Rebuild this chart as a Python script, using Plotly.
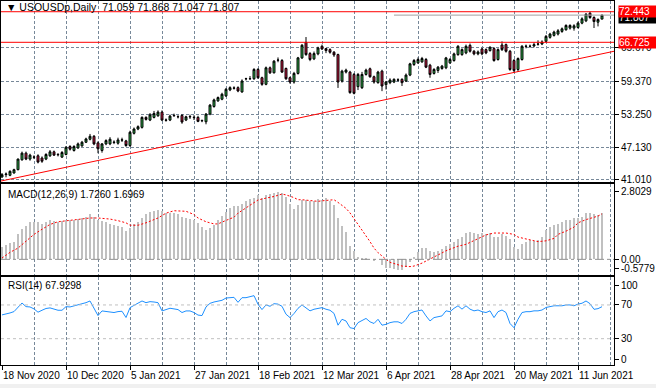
import pandas as pd
import plotly.graph_objects as go
from plotly.subplots import make_subplots

# ---------------- data ----------------
opens = [41.56, 42.00, 41.87, 42.30, 42.92, 44.77, 46.01, 44.90, 45.30, 45.52,
         45.10, 44.90, 45.52, 46.26, 45.78, 45.27, 45.76, 47.25, 46.51, 47.00,
         47.37, 48.05, 48.61, 49.16, 47.93, 46.51, 47.74, 47.74, 48.08, 47.87,
         48.50, 48.30, 47.43, 49.72, 50.52, 50.83, 52.69, 52.19, 52.69, 53.00,
         53.68, 52.22, 52.19, 53.00, 52.80, 53.06, 52.19, 52.78, 52.72, 52.69,
         52.05, 51.88, 53.31, 54.73, 55.78, 56.09, 56.71, 57.82, 58.20, 58.25,
         57.45, 59.90, 59.95, 59.92, 61.65, 60.11, 58.87, 61.96, 61.03, 63.38,
         63.32, 61.84, 60.11, 59.30, 60.91, 63.82, 66.72, 64.62, 63.63, 64.56,
         65.98, 65.55, 65.36, 64.87, 64.43, 59.49, 61.16, 61.16, 60.72, 58.44,
         58.25, 60.72, 61.78, 60.29, 59.18, 61.34, 58.81, 59.18, 59.30, 59.65,
         59.80, 59.49, 60.60, 62.58, 62.89, 63.07, 63.51, 62.45, 60.91, 61.47,
         61.84, 61.96, 62.89, 63.32, 64.43, 64.43, 64.74, 66.16, 65.05, 64.56,
         65.48, 65.36, 65.17, 65.55, 63.51, 66.22, 66.29, 65.05, 63.32, 61.65,
         63.51, 65.95, 66.00, 66.04, 66.41, 66.41, 66.91, 67.65, 68.02, 68.27,
         68.76, 69.07, 69.38, 69.38, 69.50, 70.31, 70.74, 72.16, 71.36, 70.49,
         71.059]
highs = [42.30, 42.40, 42.80, 43.10, 45.00, 46.30, 46.30, 45.90, 45.60, 45.80,
         45.40, 46.00, 46.60, 46.50, 46.00, 46.40, 47.30, 47.50, 47.50, 48.00,
         48.30, 48.90, 49.60, 49.40, 48.20, 47.90, 48.60, 49.00, 48.40, 48.90,
         48.90, 48.50, 50.20, 50.80, 51.20, 52.90, 52.90, 53.50, 53.90, 54.00,
         54.00, 52.50, 53.20, 53.40, 53.10, 53.30, 53.00, 53.20, 53.10, 53.00,
         52.30, 53.50, 55.20, 56.20, 56.60, 57.30, 58.20, 58.50, 58.50, 58.50,
         59.80, 60.10, 60.42, 61.90, 61.90, 60.30, 62.20, 62.20, 63.40, 63.90,
         63.60, 62.00, 60.30, 61.20, 64.00, 66.40, 67.71, 64.90, 65.00, 65.90,
         66.30, 65.60, 65.60, 65.10, 64.60, 61.60, 61.80, 61.40, 61.00, 61.00,
         61.20, 61.80, 62.00, 60.50, 61.40, 61.60, 59.50, 60.00, 60.00, 60.00,
         60.00, 60.90, 62.90, 63.60, 63.90, 64.00, 63.80, 62.70, 61.90, 62.30,
         62.50, 64.00, 63.80, 64.80, 66.20, 65.60, 66.30, 66.50, 65.30, 65.20,
         65.70, 65.60, 66.00, 65.80, 65.60, 66.90, 66.50, 65.30, 63.60, 63.90,
         66.20, 66.30, 66.30, 66.70, 67.10, 67.10, 68.10, 68.50, 68.90, 69.20,
         69.50, 70.10, 70.10, 70.10, 70.60, 71.40, 72.20, 72.443, 71.60, 71.20,
         71.868]
lows = [41.40, 41.50, 41.70, 42.20, 42.80, 44.60, 44.70, 44.60, 44.90, 44.10,
        44.20, 44.70, 45.30, 45.50, 45.40, 45.10, 45.60, 46.50, 46.30, 46.80,
        47.20, 47.90, 48.40, 47.50, 46.00, 46.10, 47.50, 47.50, 47.70, 47.60,
        48.10, 47.20, 47.20, 49.50, 50.30, 50.60, 52.10, 52.00, 52.50, 52.80,
        52.00, 51.90, 52.00, 52.80, 52.50, 51.50, 52.00, 52.40, 52.20, 51.80,
        51.80, 51.40, 53.10, 54.50, 55.60, 55.90, 56.50, 57.60, 57.90, 57.40,
        57.30, 59.60, 59.70, 59.70, 59.90, 58.60, 58.70, 60.80, 60.90, 63.00,
        61.00, 59.70, 59.00, 59.00, 60.70, 63.60, 64.20, 63.20, 63.40, 64.30,
        65.30, 64.70, 64.60, 64.00, 58.20, 59.20, 60.90, 57.10, 57.00, 57.80,
        58.00, 60.50, 60.10, 59.00, 59.00, 57.60, 57.90, 58.90, 59.10, 59.40,
        58.56, 59.30, 60.40, 62.30, 62.70, 62.90, 61.90, 60.10, 60.70, 61.00,
        61.60, 61.70, 62.70, 63.10, 64.20, 64.20, 64.50, 64.80, 64.30, 64.30,
        64.30, 64.50, 65.00, 63.10, 63.30, 65.10, 64.80, 61.40, 61.10, 61.20,
        63.30, 65.60, 65.70, 65.80, 66.10, 66.20, 66.70, 67.40, 67.80, 68.00,
        68.50, 68.90, 69.10, 68.90, 69.30, 70.10, 70.50, 71.10, 69.40, 69.70,
        71.047]
closes = [41.99, 42.10, 42.61, 42.92, 44.90, 46.01, 44.90, 45.64, 45.25, 44.34,
          44.50, 45.76, 46.26, 45.64, 45.72, 46.13, 47.12, 46.75, 47.25, 47.74,
          48.05, 48.67, 49.16, 47.74, 46.82, 47.74, 48.36, 48.61, 48.02, 48.48,
          48.45, 47.43, 49.91, 50.52, 50.96, 52.69, 52.32, 53.18, 53.43, 53.68,
          52.19, 52.16, 52.93, 53.06, 52.82, 51.82, 52.81, 52.84, 52.66, 51.95,
          52.10, 53.31, 54.98, 55.96, 56.40, 57.02, 57.94, 58.25, 58.15, 57.63,
          59.49, 59.93, 59.92, 61.65, 60.11, 58.87, 61.96, 61.03, 63.20, 63.40,
          61.16, 59.92, 59.30, 60.91, 63.82, 66.17, 64.43, 63.51, 64.62, 65.67,
          65.48, 65.18, 64.87, 64.37, 59.30, 61.34, 61.53, 57.33, 57.20, 60.72,
          60.72, 61.53, 60.29, 59.30, 61.16, 58.56, 59.30, 59.67, 59.80, 59.70,
          59.18, 60.60, 62.70, 63.32, 63.51, 63.69, 62.08, 60.72, 61.65, 62.08,
          62.27, 63.81, 63.51, 64.56, 65.98, 65.36, 65.98, 65.05, 64.56, 64.93,
          64.56, 64.74, 65.79, 63.32, 65.36, 65.36, 65.05, 61.65, 61.47, 63.69,
          65.98, 66.00, 65.98, 66.29, 66.38, 66.78, 67.83, 68.27, 68.64, 68.88,
          69.25, 69.87, 69.87, 69.81, 70.31, 71.11, 71.97, 71.36, 70.61, 70.99,
          71.807]

macd_hist = [0.47, 0.53, 0.59, 0.66, 0.93, 1.12, 1.23, 1.37, 1.40, 1.37,
             1.32, 1.37, 1.45, 1.41, 1.40, 1.42, 1.47, 1.45, 1.47, 1.51,
             1.52, 1.59, 1.67, 1.57, 1.45, 1.42, 1.37, 1.32, 1.27, 1.25,
             1.20, 1.05, 1.18, 1.32, 1.40, 1.54, 1.67, 1.76, 1.81, 1.85,
             1.79, 1.74, 1.74, 1.72, 1.67, 1.57, 1.54, 1.50, 1.45, 1.35,
             1.20, 1.10, 1.15, 1.27, 1.45, 1.61, 1.76, 1.91, 1.97, 1.97,
             2.06, 2.16, 2.25, 2.28, 2.40, 2.30, 2.38, 2.43, 2.46, 2.50,
             2.46, 2.33, 2.06, 1.89, 2.01, 2.22, 2.22, 2.18, 2.16, 2.25,
             2.22, 2.28, 2.16, 2.01, 1.52, 1.23, 1.00, 0.49, 0.30, 0.10,
             0.05, 0.05, 0.00, -0.07, 0.00, -0.23, -0.32, -0.34, -0.36, -0.39,
             -0.39, -0.29, -0.10, 0.10, 0.26, 0.42, 0.42, 0.32, 0.27, 0.32,
             0.38, 0.49, 0.56, 0.66, 0.75, 0.83, 0.96, 1.02, 0.99, 0.93,
             0.98, 0.93, 0.96, 0.83, 0.83, 0.93, 0.87, 0.76, 0.44, 0.39,
             0.56, 0.66, 0.71, 0.69, 0.71, 0.83, 1.08, 1.20, 1.27, 1.32,
             1.37, 1.45, 1.45, 1.52, 1.54, 1.59, 1.72, 1.74, 1.67, 1.64,
             1.726]

signal_bars = [0, 2, 4, 5, 8, 10, 12, 14, 17, 20, 22, 24, 27, 29, 31, 32, 34, 36,
               39, 41, 43, 46, 48, 49, 51, 53, 54, 56, 58, 59, 61, 63, 64, 66, 68,
               70, 71, 73, 74, 75, 77, 79, 80, 82, 83, 84, 86, 87, 88, 89, 91, 92,
               93, 94, 96, 97, 99, 100, 102, 103, 105, 107, 108, 110, 111, 113, 114,
               116, 118, 119, 121, 123, 124, 126, 128, 129, 131, 133, 134, 136, 138,
               139, 141, 143, 144, 146, 148, 149, 150]
signal_vals = [0.05, 0.26, 0.42, 0.55, 0.93, 1.12, 1.30, 1.40, 1.45, 1.49, 1.54,
               1.54, 1.50, 1.44, 1.36, 1.27, 1.27, 1.36, 1.54, 1.72, 1.81, 1.79,
               1.67, 1.54, 1.40, 1.32, 1.32, 1.45, 1.57, 1.72, 1.91, 2.13, 2.21,
               2.28, 2.34, 2.43, 2.40, 2.30, 2.22, 2.22, 2.18, 2.16, 2.18, 2.22,
               2.22, 2.12, 1.90, 1.73, 1.52, 1.30, 0.90, 0.66, 0.42, 0.25, 0.00,
               -0.11, -0.20, -0.25, -0.27, -0.25, -0.14, 0.00, 0.10, 0.24, 0.32,
               0.43, 0.49, 0.56, 0.70, 0.78, 0.91, 0.98, 0.98, 0.98, 0.93, 0.83,
               0.76, 0.69, 0.66, 0.69, 0.78, 0.93, 1.05, 1.20, 1.36, 1.48, 1.57,
               1.61, 1.6969]

rsi = [58.2, 59.0, 60.5, 62.1, 66.8, 72.3, 68.0, 67.6, 65.3, 61.4,
       63.7, 65.8, 66.5, 65.3, 63.7, 63.7, 68.0, 67.6, 68.8, 70.0,
       71.5, 72.7, 74.7, 65.3, 57.4, 62.9, 62.1, 61.8, 61.0, 62.1,
       62.5, 55.1, 66.8, 69.5, 72.0, 74.7, 72.7, 73.9, 73.5, 72.7,
       62.9, 64.9, 66.1, 65.3, 64.5, 61.0, 62.9, 62.9, 61.0, 58.0,
       57.4, 67.6, 71.9, 73.5, 74.7, 75.5, 78.2, 78.6, 79.0, 73.1,
       78.6, 78.6, 79.4, 81.0, 70.8, 64.5, 70.0, 68.4, 71.5, 71.0,
       68.4, 59.0, 55.0, 59.8, 66.0, 70.0, 66.5, 63.0, 64.9, 66.1,
       66.8, 64.9, 63.7, 60.0, 46.0, 53.0, 51.0, 43.0, 42.0, 49.0,
       52.0, 54.0, 50.0, 48.0, 53.0, 46.0, 47.0, 49.0, 50.0, 50.0,
       48.0, 53.0, 60.0, 62.0, 63.0, 64.0, 57.0, 51.0, 55.0, 56.0,
       57.0, 63.0, 62.0, 66.0, 69.0, 65.0, 69.0, 65.0, 63.0, 64.0,
       62.0, 61.0, 63.0, 55.0, 62.0, 64.0, 61.0, 48.0, 43.0, 53.0,
       61.0, 62.0, 62.0, 63.0, 63.0, 64.0, 67.0, 68.0, 69.0, 69.0,
       69.0, 70.0, 70.0, 69.0, 71.0, 72.0, 74.7, 71.5, 64.8, 65.6,
       67.9298]

holidays = ["2020-12-25", "2021-01-01", "2021-04-02"]
dates = [d for d in pd.bdate_range("2020-11-18", "2021-06-21")
         if d.strftime("%Y-%m-%d") not in holidays]

trend_bars = [-0.25, 153.0]          # trendline anchors (bar, price)
trend_prices = [40.80, 65.05]
resistance = 72.443
support = 66.725
last_price = 71.807
bid_line_start_bar = 98
price_ticks = [41.010, 47.130, 53.250, 59.370, 65.670]
macd_min, macd_max = -0.5779, 2.8029

bars = list(range(len(opens)))

# ---------------- figure ----------------
W, H = 656, 391
def fy(px):  # pixel-from-top -> paper fraction
    return 1 - px / H
def fx(px):
    return px / W

GRID = "#778899"
FONT = "Liberation Sans"

fig = make_subplots(rows=3, cols=1, shared_xaxes=True, vertical_spacing=0)

fig.add_trace(go.Candlestick(
    x=bars, open=opens, high=highs, low=lows, close=closes,
    increasing=dict(line=dict(color="black", width=1), fillcolor="#2bb34a"),
    decreasing=dict(line=dict(color="black", width=1), fillcolor="#cf1640"),
    whiskerwidth=0, showlegend=False, hoverinfo="skip"), row=1, col=1)

fig.add_trace(go.Scatter(x=trend_bars, y=trend_prices, mode="lines",
                         line=dict(color="red", width=1), showlegend=False,
                         hoverinfo="skip"), row=1, col=1)

fig.add_trace(go.Bar(x=bars, y=macd_hist, width=0.25, marker_color="#c0c0c0",
                     marker_line_width=0, showlegend=False, hoverinfo="skip"),
              row=2, col=1)
fig.add_trace(go.Scatter(x=signal_bars, y=signal_vals, mode="lines",
                         line=dict(color="red", width=1, dash="2px,2px"),
                         showlegend=False, hoverinfo="skip"), row=2, col=1)

fig.add_trace(go.Scatter(x=bars, y=rsi, mode="lines",
                         line=dict(color="#1e90ff", width=1),
                         showlegend=False, hoverinfo="skip"), row=3, col=1)

# panel geometry
main_top, main_bot = 1.0, 183.5
macd_top, macd_bot = 185.5, 277.0
rsi_top, rsi_bot = 279.5, 367.5
px_per_price = 5.392
y_ref_px, y_ref_price = 82.3, 59.37
main_range = [y_ref_price - (main_bot - y_ref_px) / px_per_price,
              y_ref_price + (y_ref_px - main_top) / px_per_price]
macd_scale = (macd_bot - macd_top) / (macd_max - macd_min)
rsi_scale = 0.85
rsi0_px = 366.8
rsi_range = [-(rsi_bot - rsi0_px) / rsi_scale, (rsi0_px - rsi_top) / rsi_scale]

x_range = [-0.25, 153.0]
xdom = [fx(1), fx(614)]

# horizontal objects
fig.add_shape(type="line", xref="x", yref="y", x0=bid_line_start_bar,
              x1=x_range[1], y0=last_price, y1=last_price,
              line=dict(color="#a0a0a0", width=1))
fig.add_hline(y=resistance, line=dict(color="red", width=1), row=1, col=1)
fig.add_hline(y=support, line=dict(color="red", width=1), row=1, col=1)
fig.add_hline(y=0, line=dict(color="#909090", width=1, dash="dashdot"), row=2, col=1)
fig.add_hline(y=70, line=dict(color="#c0c0c0", width=1, dash="3px,3px"), row=3, col=1)
fig.add_hline(y=30, line=dict(color="#c0c0c0", width=1, dash="3px,3px"), row=3, col=1)

common_x = dict(range=x_range, domain=xdom, showline=True, mirror=True,
                linecolor="black", linewidth=1, zeroline=False,
                tickmode="linear", tick0=0, dtick=16, showgrid=True,
                gridcolor=GRID, griddash="3px,2px", gridwidth=1,
                showticklabels=False,
                minor=dict(tickmode="linear", tick0=0, dtick=8, showgrid=True,
                           gridcolor=GRID, griddash="3px,2px", gridwidth=1))
fig.update_layout(
    xaxis=dict(common_x, rangeslider=dict(visible=False), ticks=""),
    xaxis2=dict(common_x, ticks=""),
    xaxis3=dict(common_x, ticks="outside", ticklen=4, tickcolor="black"),
)

axfont = dict(family=FONT, size=10, color="black")
fig.update_layout(
    yaxis=dict(domain=[fy(main_bot), fy(main_top)], range=main_range, side="right",
               tickmode="array", tickvals=price_ticks,
               ticktext=[f"{v:.3f}" for v in price_ticks],
               showgrid=True, gridcolor=GRID, griddash="3px,2px", gridwidth=1,
               ticks="outside", ticklen=4, tickcolor="black", tickfont=axfont,
               showline=True, mirror=True, linecolor="black", linewidth=1,
               zeroline=False),
    yaxis2=dict(domain=[fy(macd_bot), fy(macd_top)], range=[macd_min, macd_max],
                side="right", tickmode="array",
                tickvals=[macd_max - 7 / macd_scale, 0, macd_min + 6 / macd_scale],
                ticktext=[f"{macd_max:.4f}", "0.00", f"{macd_min:.4f}"],
                showgrid=False, ticks="outside", ticklen=4, tickcolor="black",
                tickfont=axfont, showline=True, mirror=True, linecolor="black",
                linewidth=1, zeroline=False),
    yaxis3=dict(domain=[fy(rsi_bot), fy(rsi_top)], range=rsi_range, side="right",
                tickmode="array",
                tickvals=[100 - 6 / rsi_scale, 70, 30, 5 / rsi_scale],
                ticktext=["100", "70", "30", "0"],
                showgrid=False, ticks="outside", ticklen=4, tickcolor="black",
                tickfont=axfont, showline=True, mirror=True, linecolor="black",
                linewidth=1, zeroline=False),
)

ann = []
# date labels, left aligned on their bars
for i in range(0, len(dates), 16):
    d = dates[i]
    ann.append(dict(x=i, xref="x3", y=fy(378), yref="paper",
                    text=f"{d.day} {d.strftime('%b %Y')}", showarrow=False,
                    xanchor="left", yanchor="middle", xshift=-1,
                    font=axfont))
# price boxes
ann.append(dict(x=fx(618), xref="paper", y=last_price, yref="y",
                text=f"{last_price:.3f}", showarrow=False, xanchor="left",
                yanchor="middle", bgcolor="black", borderpad=0, width=40,
                align="left", font=dict(family=FONT, size=10, color="white"),
                yshift=-2))
for lvl in (resistance, support):
    ann.append(dict(x=fx(618), xref="paper", y=lvl, yref="y",
                    text=f"{lvl:.3f}", showarrow=False, xanchor="left",
                    yanchor="middle", bgcolor="red", borderpad=0, width=40,
                    align="left", font=dict(family=FONT, size=10, color="white")))
# panel titles
ann.append(dict(x=fx(4), xref="paper", y=fy(7), yref="paper",
                text=f"\u25bc USOUSDp,Daily  {opens[-1]:.3f} {highs[-1]:.3f} "
                     f"{lows[-1]:.3f} {closes[-1]:.3f}",
                showarrow=False, xanchor="left", yanchor="middle",
                font=dict(family=FONT, size=10.5, color="black")))
ann.append(dict(x=fx(6), xref="paper", y=fy(196), yref="paper",
                text=f"MACD(12,26,9) {macd_hist[-1]:.4f} {signal_vals[-1]:.4f}",
                showarrow=False, xanchor="left", yanchor="middle", font=axfont))
ann.append(dict(x=fx(6), xref="paper", y=fy(288), yref="paper",
                text=f"RSI(14) {rsi[-1]:.4f}", showarrow=False, xanchor="left",
                yanchor="middle", font=axfont))

fig.update_layout(
    width=W, height=H, margin=dict(l=0, r=0, t=0, b=0),
    paper_bgcolor="white", plot_bgcolor="white", showlegend=False,
    bargap=0, annotations=ann,
    shapes=list(fig.layout.shapes) + [
        dict(type="rect", xref="paper", yref="paper", x0=0, x1=1,
             y0=0, y1=fy(387), fillcolor="#f0f0f0", line_width=0,
             layer="below")],
)

fig.write_html("out.html",
               config={"displayModeBar": False},
               post_script="document.body.style.margin='0';"
                           "document.body.style.padding='0';")
